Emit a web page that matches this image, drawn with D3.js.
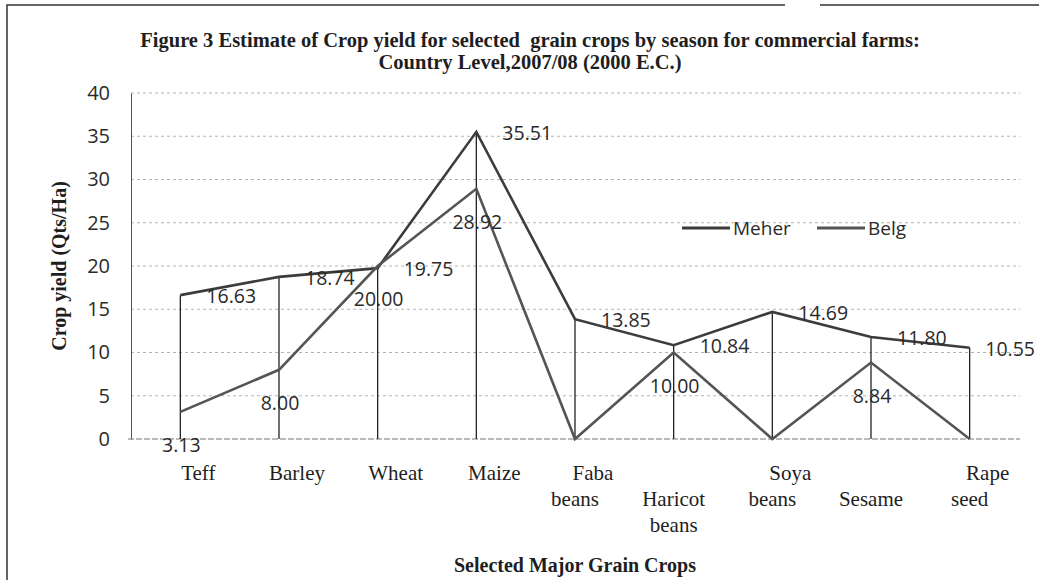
<!doctype html>
<html>
<head>
<meta charset="utf-8">
<style>
  body { margin: 0; background: #fff; }
  svg { display: block; }
  .grid line { stroke: #b4b4b4; stroke-dasharray: 3,3; }
  .num { font-family: "Open Sans", sans-serif; fill: #2a2a2a; }
  .serif { font-family: "Liberation Serif", "Times New Roman", serif; fill: #1e1e1e; }
</style>
<script src="https://d3js.org/d3.v7.min.js"></script>
</head>
<body>
<svg width="1039" height="580" id="chart"></svg>
<script>
// data
var crops = ["Teff", "Barley", "Wheat", "Maize", "Faba beans", "Haricot beans", "Soya beans", "Sesame", "Rape seed"];
var tickLabels = ["Teff", "Barley", "Wheat", "Maize", "Faba\nbeans", "\nHaricot\nbeans", "Soya\nbeans", "\nSesame", "Rape\nseed"];
var meher = [16.63, 18.74, 19.75, 35.51, 13.85, 10.84, 14.69, 11.80, 10.55];
var belg = [3.13, 8.00, 20.00, 28.92, 0, 10.00, 0, 8.84, 0];
var seriesNames = ["Meher", "Belg"];
var yTicks = [0, 5, 10, 15, 20, 25, 30, 35, 40];
var titleLines = ["Figure 3 Estimate of Crop yield for selected  grain crops by season for commercial farms:",
                  "Country Level,2007/08 (2000 E.C.)"];

var svg = d3.select("#chart"),
    W = +svg.attr("width"),
    plotL = 131, plotR = 1019, plotT = 93, plotB = 439;

var x = d3.scalePoint().domain(crops).range([plotL, plotR]).padding(0.5);
var y = d3.scaleLinear().domain([0, 40]).range([plotB, plotT]);

// scanned page frame
svg.append("path")
   .attr("d", "M7,580V5H785M820,5H1039")
   .attr("fill", "none").attr("stroke", "#333").attr("stroke-width", 1.5);

// titles
svg.selectAll(".title").data(titleLines).enter().append("text")
   .attr("class", "serif")
   .attr("x", 530)
   .attr("y", function(d, i) { return 47 + i * 22; })
   .attr("text-anchor", "middle")
   .attr("font-size", "20.5px").attr("font-weight", "bold")
   .attr("xml:space", "preserve")
   .text(function(d) { return d; });

// gridlines
svg.append("g").attr("class", "grid")
   .selectAll("line").data(yTicks.slice(1)).enter().append("line")
   .attr("x1", plotL).attr("x2", plotR + 1)
   .attr("y1", function(d) { return y(d); })
   .attr("y2", function(d) { return y(d); });

// axes
var yAxis = svg.append("g")
   .attr("transform", "translate(" + plotL + ",0)")
   .call(d3.axisLeft(y).tickValues(yTicks).tickSize(0).tickPadding(21));
yAxis.select(".domain").attr("stroke", "#555");
yAxis.selectAll("text").attr("class", "num").attr("font-size", "20px").attr("fill", "#2a2a2a");

svg.append("line")
   .attr("x1", plotL - 3).attr("x2", plotR + 1)
   .attr("y1", y(0)).attr("y2", y(0))
   .attr("stroke", "#777").attr("stroke-dasharray", "6,2");

// drop lines from the higher series
svg.append("g").selectAll("line").data(crops).enter().append("line")
   .attr("x1", function(d) { return x(d); })
   .attr("x2", function(d) { return x(d); })
   .attr("y1", function(d, i) { return y(Math.max(meher[i], belg[i])); })
   .attr("y2", y(0))
   .attr("stroke", "#222").attr("stroke-width", 1.3);

// series lines
var line = d3.line()
   .x(function(d, i) { return x(crops[i]); })
   .y(function(d) { return y(d); });
var colors = ["#3c3c3c", "#555555"];
[meher, belg].forEach(function(s, k) {
    svg.append("path")
       .datum(s)
       .attr("d", line)
       .attr("fill", "none")
       .attr("stroke", colors[k])
       .attr("stroke-width", 2.6)
       .attr("stroke-linejoin", "miter");
});

// data labels: Meher to the right, Belg below
svg.append("g").selectAll("text").data(meher).enter().append("text")
   .attr("class", "num").attr("font-size", "19.5px")
   .attr("x", function(d, i) { return x(crops[i]) + 26; })
   .attr("y", function(d) { return y(d) + 8; })
   .text(function(d) { return d.toFixed(2); })
   .each(function() {
       var t = d3.select(this), w = this.getComputedTextLength();
       if (+t.attr("x") + w > W - 4) t.attr("x", W - 4 - w);
   });

svg.append("g").selectAll("text").data(belg).enter().append("text")
   .attr("class", "num").attr("font-size", "19.5px")
   .attr("text-anchor", "middle")
   .attr("x", function(d, i) { return x(crops[i]) + 1; })
   .attr("y", function(d) { return y(d) + 40; })
   .text(function(d) { return d > 0 ? d.toFixed(2) : ""; });

// category labels (wrapped, first row nudged right as in the scan)
var cat = svg.append("g").selectAll("text").data(tickLabels).enter().append("text")
   .attr("class", "serif").attr("font-size", "21px")
   .attr("text-anchor", "middle")
   .attr("transform", function(d, i) { return "translate(" + x(crops[i]) + ",480)"; });
cat.each(function(d) {
    var t = d3.select(this);
    d.split("\n").forEach(function(s, r) {
        if (!s) return;
        t.append("tspan")
         .attr("x", r === 0 ? 18 : 0)
         .attr("y", r * 26)
         .text(s);
    });
});

// axis titles
svg.append("text")
   .attr("class", "serif").attr("font-size", "20px").attr("font-weight", "bold")
   .attr("text-anchor", "middle")
   .attr("x", (plotL + plotR) / 2).attr("y", 572)
   .text("Selected Major Grain Crops");

svg.append("text")
   .attr("class", "serif").attr("font-size", "20px").attr("font-weight", "bold")
   .attr("text-anchor", "middle")
   .attr("transform", "translate(66," + (plotT + plotB) / 2 + ") rotate(-90)")
   .text("Crop yield (Qts/Ha)");

// legend
var leg = svg.append("g").attr("transform", "translate(682,228)")
   .selectAll("g").data(seriesNames).enter().append("g")
   .attr("transform", function(d, i) { return "translate(" + i * 135 + ",0)"; });
leg.append("line")
   .attr("x1", 0).attr("x2", 48)
   .attr("stroke", function(d, i) { return colors[i]; })
   .attr("stroke-width", 3);
leg.append("text")
   .attr("class", "num").attr("font-size", "19px").attr("fill", "#444")
   .attr("x", 51).attr("y", 7)
   .text(function(d) { return d; });
</script>
</body>
</html>
